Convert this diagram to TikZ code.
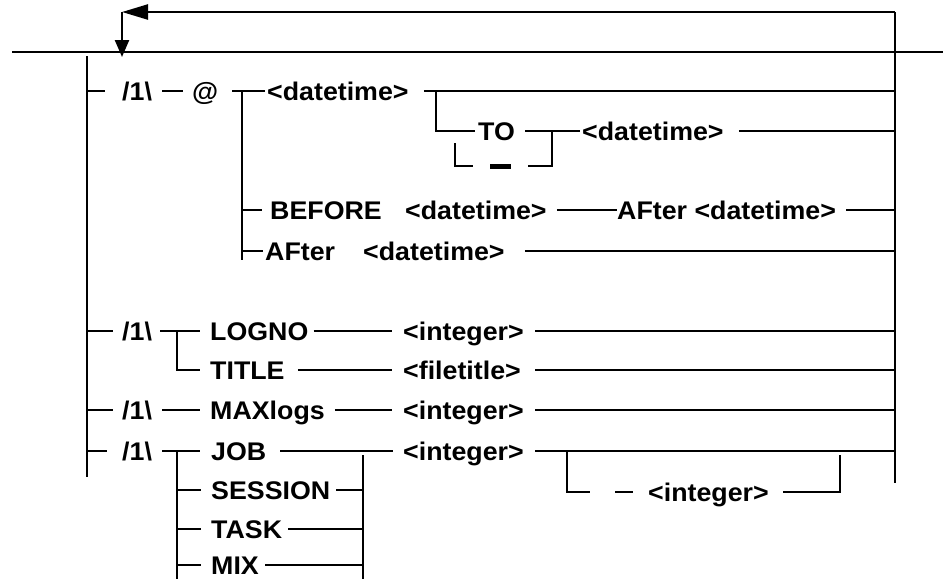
\documentclass[tikz,border=0pt]{standalone}
\usepackage{fontspec}
\newfontfamily\railfont{Liberation Sans}[FakeStretch=1.05]
\usetikzlibrary{positioning,arrows.meta}
\tikzset{
  wire/.style     ={line width=2.4pt},
  kw/.style       ={font=\railfont\bfseries\fontsize{25.5}{30}\selectfont,
                    inner sep=0pt, anchor=west, text height=18pt, text depth=0pt},
  backarrow/.style={wire, -{Triangle[length=26pt,width=15pt]}},
  downarrow/.style={wire, -{Triangle[length=17pt,width=14pt]}},
}

\begin{document}
\begin{tikzpicture}[x=1pt,y=-1pt]
  \useasboundingbox (0,0) rectangle (944,579);
  \coordinate (rail) at (895,12);
  \coordinate (lrail) at (87,52);
  \coordinate (back) at (122,12);
  % main line, loop back, rails
  \draw[wire] (12,52) -- (943,52);
  \draw[backarrow] (rail) -- (back);
  \draw[downarrow] (back) -- (122,57);
  \draw[wire] (rail) -- (895,483);
  \draw[wire] (87,56) -- (87,477);

  % /1\ @ ...
  \node[kw] (sl1) at (122,91) {/1\textbackslash};
  \node[kw] (at) at (192,91) {@};
  \node[kw] (dt1) at (267,91) {<datetime>};
  \draw[wire] (lrail |- sl1.west) -- ++(18,0);
  \draw[wire] (162,91) -- (183,91);
  \draw[wire] (232,91) -- ([xshift=-2pt]dt1.west);
  \coordinate (fork) at (242,91);
  \draw[wire] (fork) -- (242,260);
  \draw[wire] ([xshift=15pt]dt1.east) -- (dt1.east -| rail);

  \coordinate (tofork) at (436,91);
  \node[kw] (to) at (478,131) {TO};
  \node[kw] (dt2) at (582,131) {<datetime>};
  \draw[wire] (tofork) |- ([xshift=-3pt]to.west);
  \draw[wire] ([xshift=10pt]to.east) -- ([xshift=-2pt]dt2.west);
  \draw[wire] ([xshift=15pt]dt2.east) -- (dt2.east -| rail);
  \node[inner sep=0pt] (blank) at (500.5,166) {\rule{21pt}{5pt}};
  \draw[wire] (455,143) |- ([xshift=-17pt]blank.west);
  \draw[wire] ([xshift=17pt]blank.east) -| (552,132);

  \node[kw] (before) at (270,210) {BEFORE};
  \node[kw] (dt3) at (405,210) {<datetime>};
  \node[kw] (after1) at (617,210) {AFter <datetime>};
  \draw[wire] (fork |- before.west) -- ++(20,0);
  \draw[wire] ([xshift=10pt]dt3.east) -- (after1.west);
  \draw[wire] ([xshift=10pt]after1.east) -- (after1.east -| rail);

  \node[kw] (after2) at (265,251) {AFter};
  \node[kw] (dt4) at (363,251) {<datetime>};
  \draw[wire] (fork |- after2.west) -- ([xshift=-2pt]after2.west);
  \draw[wire] ([xshift=20pt]dt4.east) -- (dt4.east -| rail);

  % LOGNO / TITLE
  \node[kw] (sl2) at (122,331) {/1\textbackslash};
  \node[kw] (logno) at (210,331) {LOGNO};
  \node[kw] (int1) at (403,331) {<integer>};
  \node[kw] (title) at (210,370) {TITLE};
  \node[kw] (ftitle) at (403,370) {<filetitle>};
  \coordinate (lfork) at (177,331);
  \draw[wire] (lrail |- sl2.west) -- ++(26,0);
  \draw[wire] (160,331) -- ([xshift=-10pt]logno.west);
  \draw[wire] (lfork) |- ([xshift=-10pt]title.west);
  \draw[wire] ([xshift=5pt]logno.east) -- ([xshift=-11pt]int1.west);
  \draw[wire] ([xshift=13pt]title.east) -- ([xshift=-11pt]ftitle.west);
  \draw[wire] (535,331) -- (int1.east -| rail);
  \draw[wire] (535,370) -- (ftitle.east -| rail);

  % MAXlogs
  \node[kw] (sl3) at (122,410) {/1\textbackslash};
  \node[kw] (maxlogs) at (210,410) {MAXlogs};
  \node[kw] (int2) at (403,410) {<integer>};
  \draw[wire] (lrail |- sl3.west) -- ++(26,0);
  \draw[wire] (162,410) -- ([xshift=-10pt]maxlogs.west);
  \draw[wire] ([xshift=10pt]maxlogs.east) -- ([xshift=-11pt]int2.west);
  \draw[wire] (535,410) -- (int2.east -| rail);

  % JOB ...
  \node[kw] (sl4) at (122,451) {/1\textbackslash};
  \node[kw] (job) at (211,451) {JOB};
  \node[kw] (int3) at (403,451) {<integer>};
  \coordinate (jfork) at (177,451);
  \coordinate (jjoin) at (363,455);
  \draw[wire] (lrail |- sl4.west) -- ++(20,0);
  \draw[wire] (162,451) -- ([xshift=-11pt]job.west);
  \draw[wire] (280,451) -- ([xshift=-10pt]int3.west);
  \draw[wire] (535,451) -- (int3.east -| rail);
  \draw[wire] (jfork) -- (177,579);
  \draw[wire] (jjoin) -- (363,579);
  \foreach \name/\yy in {SESSION/490,TASK/529,MIX/565}{
    \node[kw] (\name) at (211,\yy) {\name};
    \draw[wire] (jfork |- \name.west) -- ([xshift=-10pt]\name.west);
    \draw[wire] ([xshift=6pt]\name.east) -- (\name.east -| jjoin);
  }

  \coordinate (ofork) at (567,451);
  \node[kw] (int4) at (648,492) {<integer>};
  \draw[wire] (ofork) |- (590,492);
  \draw[wire] (615,492) -- (633,492);
  \draw[wire] (783,492) -| (840,455);
\end{tikzpicture}
\end{document}
